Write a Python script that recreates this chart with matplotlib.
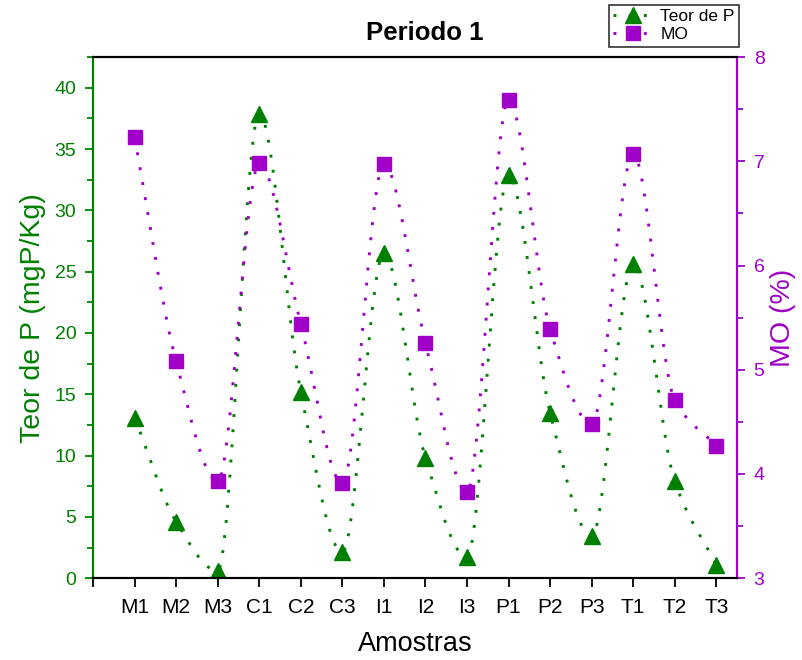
import numpy as np
import matplotlib
matplotlib.use("Agg")
import matplotlib.pyplot as plt
from matplotlib.ticker import MultipleLocator

plt.rcParams['font.family'] = ['Liberation Sans', 'DejaVu Sans']

amostras = ["M1", "M2", "M3", "C1", "C2", "C3", "I1", "I2", "I3",
            "P1", "P2", "P3", "T1", "T2", "T3"]
teor_p = [13.1, 4.6, 0.6, 37.9, 15.2, 2.1, 26.5, 9.8, 1.7,
          32.9, 13.5, 3.4, 25.6, 7.9, 1.1]
mo = [7.23, 5.08, 3.93, 6.98, 5.44, 3.91, 6.97, 5.26, 3.83,
      7.59, 5.39, 4.48, 7.07, 4.71, 4.27]

GREEN = "#008000"
PURPLE = "#A000C8"


def pchip(x, y, xs):
    # monotone cubic curve through the points (spline-style connection)
    x = np.asarray(x, float)
    y = np.asarray(y, float)
    h = np.diff(x)
    d = np.diff(y) / h
    n = len(x)
    m = np.zeros(n)
    m[0], m[-1] = d[0], d[-1]
    for k in range(1, n - 1):
        if d[k - 1] * d[k] > 0:
            w1 = 2 * h[k] + h[k - 1]
            w2 = h[k] + 2 * h[k - 1]
            m[k] = (w1 + w2) / (w1 / d[k - 1] + w2 / d[k])
    idx = np.clip(np.searchsorted(x, xs) - 1, 0, n - 2)
    t = (xs - x[idx]) / h[idx]
    h00 = 2 * t**3 - 3 * t**2 + 1
    h10 = t**3 - 2 * t**2 + t
    h01 = -2 * t**3 + 3 * t**2
    h11 = t**3 - t**2
    return (h00 * y[idx] + h10 * h[idx] * m[idx]
            + h01 * y[idx + 1] + h11 * h[idx] * m[idx + 1])


x = np.arange(1, len(amostras) + 1)
xs = np.linspace(x[0], x[-1], 600)
dots = (0, (1, 4.2))

fig = plt.figure(figsize=(8.02, 6.6), dpi=100)
ax = fig.add_axes([0.116, 0.124, 0.803, 0.7894])
ax2 = ax.twinx()

ax.plot(xs, pchip(x, teor_p, xs), color=GREEN, lw=2.1, linestyle=dots)
ax.plot(x, teor_p, linestyle="none", marker="^", ms=12, color=GREEN)
ax2.plot(xs, pchip(x, mo, xs), color=PURPLE, lw=2.1, linestyle=dots)
ax2.plot(x, mo, linestyle="none", marker="s", ms=10.5, color=PURPLE)

ax.set_xlim(0, 15.5)
ax.set_ylim(0, 42.5)
ax2.set_ylim(3, 8)

ax.set_xticks(np.arange(0, 16))
ax.set_xticklabels([""] + amostras, fontsize=15)
ax.yaxis.set_major_locator(MultipleLocator(5))
ax.yaxis.set_minor_locator(MultipleLocator(2.5))
ax2.yaxis.set_major_locator(MultipleLocator(1))
ax2.yaxis.set_minor_locator(MultipleLocator(0.5))

ax.tick_params(axis="x", direction="out", length=6.5, width=1.3, pad=8)
ax.tick_params(axis="y", which="major", direction="out", length=6, width=1.3,
               colors=GREEN, labelsize=14, pad=6)
ax.tick_params(axis="y", which="minor", direction="out", length=4, width=1.3,
               colors=GREEN)
ax2.tick_params(axis="y", which="major", direction="out", length=6, width=1.3,
                colors=PURPLE, labelsize=14, pad=6)
ax2.tick_params(axis="y", which="minor", direction="out", length=4, width=1.3,
                colors=PURPLE)

for a in (ax, ax2):
    for s in a.spines.values():
        s.set_linewidth(1.5)
ax2.spines["left"].set_color(GREEN)
ax2.spines["right"].set_color(PURPLE)
ax.spines["left"].set_color(GREEN)
ax.spines["right"].set_color(PURPLE)

ax.set_xlabel("Amostras", fontsize=19.5, labelpad=10)
ax.set_ylabel("Teor de P (mgP/Kg)", fontsize=20.5, color=GREEN, labelpad=6)
ax2.set_ylabel("MO (%)", fontsize=20.5, color=PURPLE, labelpad=4)

fig.text(425 / 802, 1 - 33 / 660, "Periodo 1", fontsize=18.5, fontweight="bold",
         ha="center", va="center")

h1 = plt.Line2D([], [], color=GREEN, lw=2.1, linestyle=dots, marker="^", ms=12)
h2 = plt.Line2D([], [], color=PURPLE, lw=2.1, linestyle=dots, marker="s", ms=10.5)
leg = fig.legend([h1, h2], ["Teor de P", "MO"], loc="upper right",
                 bbox_to_anchor=(739 / 802, 1 - 5 / 660), fontsize=12.5,
                 frameon=True, fancybox=False, edgecolor="black",
                 handlelength=2.3, handletextpad=0.4, borderpad=0.25,
                 labelspacing=0.15, borderaxespad=0)
leg.get_frame().set_linewidth(1.2)

fig.savefig("out.png", dpi=100)
